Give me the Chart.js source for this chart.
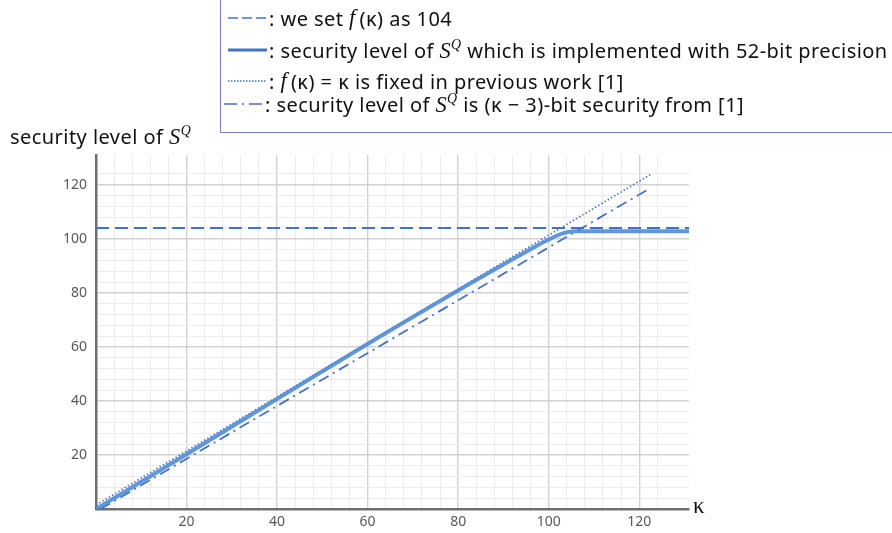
<!DOCTYPE html>
<html>
<head>
<meta charset="utf-8">
<script src="https://cdn.jsdelivr.net/npm/chart.js@4.4.1/dist/chart.umd.min.js"></script>
<style>
  html,body{margin:0;padding:0;background:#fff;width:892px;height:533px;overflow:hidden;font-family:"Noto Sans",sans-serif;}
  #wrap{position:absolute;left:0;top:0;width:892px;height:533px;}
  .m{font-family:"Liberation Serif",serif;font-style:italic;font-size:1.12em;}
  .sup{font-size:0.62em;vertical-align:0.65em;}
  #legend{position:absolute;left:220px;top:-2px;width:672px;height:135px;border-left:1.5px solid #6f88b4;border-bottom:1.5px solid #6f88b4;box-sizing:border-box;}
  .row{position:absolute;left:6px;height:26px;display:flex;align-items:center;font-size:20px;letter-spacing:0.45px;color:#111;white-space:nowrap;}
  .row svg{flex:none;margin-right:2px;}
  #ytitle{position:absolute;left:10px;top:123px;font-size:20px;letter-spacing:0.45px;color:#111;white-space:nowrap;}
  #xlab{position:absolute;left:693px;top:493px;font-size:23px;font-family:"Liberation Serif",serif;color:#111;}
</style>
</head>
<body>
<div id="wrap"><canvas id="c" width="892" height="533"></canvas></div>
<div id="legend">
  <div class="row" style="top:7px"><svg width="40" height="6"><line x1="1" y1="3" x2="40" y2="3" stroke="#4472c4" stroke-width="1.6" stroke-dasharray="10,4"/></svg>:&nbsp;we set&nbsp;<span class="m">f</span>&thinsp;(κ) as 104</div>
  <div class="row" style="top:39px"><svg width="40" height="6"><line x1="1" y1="3" x2="40" y2="3" stroke="#4472c4" stroke-width="3"/></svg>:&nbsp;security level of&nbsp;<span class="m">S<span class="sup">Q</span></span>&nbsp;which is implemented with 52-bit precision</div>
  <div class="row" style="top:70px"><svg width="40" height="6"><line x1="1" y1="3" x2="40" y2="3" stroke="#4472c4" stroke-width="1.6" stroke-dasharray="1.5,1.5"/></svg>:&nbsp;<span class="m">f</span>&thinsp;(κ) = κ is fixed in previous work [1]</div>
  <div class="row" style="top:93px;left:2px"><svg width="40" height="6"><line x1="1" y1="3" x2="40" y2="3" stroke="#4472c4" stroke-width="1.6" stroke-dasharray="13,5,2,5"/></svg>:&nbsp;security level of&nbsp;<span class="m">S<span class="sup">Q</span></span>&nbsp;is (κ − 3)-bit security from [1]</div>
</div>
<div id="ytitle">security level of <span class="m">S<span class="sup">Q</span></span></div>
<div id="xlab">κ</div>
<script>
// values
const flatK = [0, 131];
const flatY = [104, 104];
const solidK = [0, 98, 100, 102, 104, 106, 131];
const solidY = [0, 98, 99.7, 101.3, 102.4, 102.8, 102.8];
const dotK = [0, 122.5];
const dotY = [1.5, 123.8];
const ddK = [1, 122.5];
const ddY = [0, 118.8];
const xMax = 131, yMax = 131;

const pts = (xs, ys) => xs.map((x, i) => ({x, y: ys[i]}));
const BLUE = '#4472c4';
const gridCol = ctx => (ctx.tick && ctx.tick.value % 20 === 0) ? '#d2d2d2' : '#ebebeb';
const gridW = ctx => (ctx.tick && ctx.tick.value % 20 === 0) ? 1.4 : 1;
const keep4 = s => { s.ticks = s.ticks.filter(t => t.value % 4 === 0); };
const lbl = v => (v > 0 && v % 20 === 0) ? v : '';

new Chart(document.getElementById('c'), {
  type: 'line',
  data: {datasets: [
    {data: pts(flatK, flatY), borderColor: BLUE, borderWidth: 2, borderDash: [13, 6], pointRadius: 0},
    {data: pts(solidK, solidY), borderColor: 'rgba(80,140,214,0.9)', borderWidth: 4, pointRadius: 0, cubicInterpolationMode: 'monotone'},
    {data: pts(dotK, dotY), borderColor: BLUE, borderWidth: 1.6, borderDash: [1.5, 2.2], pointRadius: 0},
    {data: pts(ddK, ddY), borderColor: BLUE, borderWidth: 1.8, borderDash: [11, 5, 2, 5], pointRadius: 0}
  ]},
  options: {
    responsive: false, animation: false,
    layout: {padding: {left: 0, top: 155, right: 203, bottom: 0}},
    plugins: {legend: {display: false}, tooltip: {enabled: false}},
    scales: {
      x: {type: 'linear', min: 0, max: xMax,
        afterBuildTicks: keep4,
        afterFit: s => { s.height = 24; },
        grid: {color: gridCol, lineWidth: gridW, drawTicks: false},
        border: {display: true, color: '#6e6e6e', width: 2.5},
        ticks: {stepSize: 4, autoSkip: false, maxRotation: 0, padding: 5, color: '#595959', font: {family: 'Noto Sans', size: 14}, callback: lbl}},
      y: {type: 'linear', min: 0, max: yMax,
        afterBuildTicks: keep4,
        afterFit: s => { s.width = 96; },
        grid: {color: gridCol, lineWidth: gridW, drawTicks: false},
        border: {display: true, color: '#6e6e6e', width: 2.5},
        ticks: {stepSize: 4, autoSkip: false, padding: 9, color: '#595959', font: {family: 'Noto Sans', size: 14}, callback: lbl}}
    }
  }
});
</script>
</body>
</html>
